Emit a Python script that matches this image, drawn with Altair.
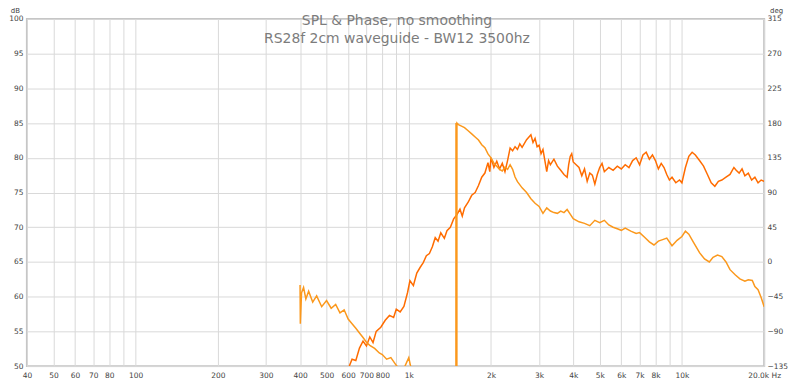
import altair as alt
import pandas as pd

# ---------------- data ----------------
spl_freq = [600, 620, 640, 660, 680, 700, 720, 740, 760, 790, 820, 850, 880, 900, 930, 960, 990,
            1010, 1040, 1070, 1100, 1130, 1160, 1190, 1220, 1250, 1280, 1310, 1350, 1380, 1420,
            1460, 1500, 1540, 1570, 1600, 1650, 1700, 1750, 1800, 1850, 1900, 1950, 1980, 2000,
            2050, 2100, 2150, 2200, 2250, 2300, 2350, 2400, 2450, 2500, 2550, 2600, 2700, 2800,
            2850, 2900, 2950, 3000, 3050, 3100, 3150, 3200, 3250, 3300, 3400, 3500, 3600, 3700,
            3800, 3850, 3900, 3950, 4000, 4100, 4200, 4300, 4400, 4500, 4600, 4700, 4800, 4900,
            5000, 5100, 5200, 5400, 5600, 5800, 6000, 6200, 6400, 6600, 6800, 7000, 7200, 7400,
            7600, 7800, 8000, 8200, 8400, 8600, 8800, 9000, 9200, 9500, 9800, 10000, 10300,
            10600, 10900, 11200, 11600, 12000, 12400, 12800, 13200, 13600, 14000, 14500, 15000,
            15500, 15800, 16200, 16600, 17000, 17500, 18000, 18500, 19000, 19500, 20000]
spl_db = [49.6, 51.0, 50.8, 52.6, 53.6, 52.9, 54.2, 53.4, 55.0, 55.6, 56.6, 57.3, 57.0, 58.2,
          57.8, 58.6, 60.6, 62.3, 61.6, 63.4, 64.2, 64.9, 65.9, 66.2, 67.2, 68.5, 68.0, 69.2,
          68.4, 69.5, 70.0, 71.2, 71.8, 72.6, 71.6, 72.8, 73.6, 74.6, 75.0, 76.0, 77.2, 77.8,
          79.3, 78.0, 80.0, 78.6, 79.5, 78.4, 79.2, 78.0, 79.6, 81.4, 81.0, 81.6, 81.2, 82.0,
          81.5, 82.6, 83.3, 82.2, 82.8, 81.6, 81.8, 80.6, 81.2, 79.6, 78.0, 79.6, 79.0, 79.8,
          78.8, 78.2, 77.6, 77.2, 79.0, 80.2, 80.6, 79.4, 79.0, 78.6, 77.4, 78.4, 76.6, 77.8,
          77.5, 76.2, 77.6, 78.6, 79.2, 78.0, 78.6, 78.2, 78.8, 78.4, 79.0, 78.6, 79.6, 80.0,
          79.0, 80.4, 80.8, 79.8, 80.4, 79.6, 78.4, 79.2, 78.6, 77.6, 76.8, 77.2, 76.4, 76.8,
          76.4, 78.6, 80.2, 80.8, 80.4, 79.6, 78.8, 77.6, 76.4, 75.9, 76.6, 76.8, 77.2, 77.6,
          78.6, 78.2, 77.8, 78.4, 77.4, 77.8, 76.8, 77.2, 76.4, 76.8, 76.6]

phase_freq = [400, 401, 405, 412, 420, 430, 445, 460, 480, 500, 520, 540, 560, 580, 600, 620,
              640, 660, 680, 700, 720, 750, 780, 800, 830, 860, 900, 930, 960, 1000, 1020, 1050,
              1100, 1200, 1300, 1400, 1488, 1489, 1492, 1493, 1496, 1497, 1500, 1501, 1520,
              1560, 1600, 1650, 1700, 1750, 1800, 1850, 1900, 1950, 2000, 2050, 2100, 2150,
              2200, 2250, 2300, 2350, 2400, 2450, 2500, 2600, 2700, 2800, 2900, 3000, 3100,
              3200, 3300, 3400, 3500, 3600, 3700, 3800, 3900, 4000, 4200, 4400, 4600, 4800,
              5000, 5200, 5400, 5600, 5800, 6000, 6200, 6500, 6800, 7000, 7300, 7600, 7900,
              8200, 8500, 8800, 9200, 9600, 10000, 10300, 10600, 11000, 11600, 12100, 12600,
              13000, 13500, 14000, 14500, 15000, 15700, 16300, 17000, 17500, 18100, 18500,
              19000, 19500, 20000]
phase_deg = [-30, -80, -40, -33, -48, -38, -52, -44, -58, -50, -60, -55, -66, -62, -74, -80,
             -86, -92, -98, -104, -108, -112, -118, -120, -126, -124, -134, -140, -138, -124,
             -138, -150, -155, -162, -168, -174, -180, 180, -180, 180, -180, 180, -180, 180, 178,
             176, 174, 170, 166, 162, 158, 152, 148, 140, 135, 128, 124, 120, 118, 123, 120,
             126, 120, 110, 104, 96, 90, 82, 76, 72, 63, 70, 66, 64, 63, 66, 64, 68, 62, 56,
             52, 50, 47, 54, 51, 54, 48, 45, 43, 41, 44, 40, 37, 38, 32, 26, 22, 27, 29, 31,
             21, 28, 33, 40, 36, 26, 12, 4, 0, 6, 9, 7, 0, -10, -17, -22, -25, -23, -24, -32,
             -36, -46, -58]

tick_values = [40, 50, 60, 70, 80, 90, 100, 200, 300, 400, 500, 600, 700, 800, 900, 1000,
               2000, 3000, 4000, 5000, 6000, 7000, 8000, 9000, 10000, 20000]
tick_labels = ["40", "50", "60", "70", "80", "", "100", "200", "300", "400", "500", "600",
               "700", "800", "", "1k", "2k", "3k", "4k", "5k", "6k", "7k", "8k", "", "10k",
               "20.0k Hz"]
db_ticks = [50, 55, 60, 65, 70, 75, 80, 85, 90, 95, 100]
deg_ticks = [-135, -90, -45, 0, 45, 90, 135, 180, 225, 270, 315]
title_lines = ["SPL & Phase, no smoothing", "RS28f 2cm waveguide - BW12 3500hz"]

# ---------------- chart ----------------
spl_df = pd.DataFrame({"freq": spl_freq, "db": spl_db})
phase_df = pd.DataFrame({"freq": phase_freq, "deg": phase_deg})
title_df = pd.DataFrame({"title": ["\n".join(title_lines)]})

label_expr = ""
for v, l in zip(tick_values, tick_labels):
    label_expr += f"datum.value == {v} ? '{l}' : "
label_expr += "''"

FONT = "DejaVu Sans"
xscale = alt.Scale(type="log", domain=[40, 20000], nice=False)
xaxis = alt.Axis(values=tick_values, labelExpr=label_expr, title=None,
                 grid=True, ticks=False, domain=False, labelPadding=5,
                 labelOverlap=False, labelFlush=False)

spl = alt.Chart(spl_df).mark_line(color="#ff6c00", strokeWidth=1.5, clip=True).encode(
    x=alt.X("freq:Q", scale=xscale, axis=xaxis),
    y=alt.Y("db:Q", scale=alt.Scale(domain=[50, 100], nice=False, zero=False),
            axis=alt.Axis(orient="left", values=db_ticks, grid=True, ticks=False,
                          domain=False, labelPadding=4, title="dB", titleAngle=0,
                          titleX=-12, titleY=-6, titleAlign="center",
                          titleBaseline="alphabetic", titleFontWeight="normal",
                          titleFontSize=7, titleColor="#444", titleFont=FONT)),
)

phase = alt.Chart(phase_df).mark_line(color="#fb981c", strokeWidth=1.5, clip=True).encode(
    x=alt.X("freq:Q", scale=xscale, axis=xaxis),
    y=alt.Y("deg:Q", scale=alt.Scale(domain=[-135, 315], nice=False, zero=False),
            axis=alt.Axis(orient="right", values=deg_ticks, grid=False, ticks=False,
                          domain=False, labelPadding=3, title="deg", titleAngle=0,
                          titleX=12, titleY=-6, titleAlign="center",
                          titleBaseline="alphabetic", titleFontWeight="normal",
                          titleFontSize=7, titleColor="#444", titleFont=FONT)),
)

title = alt.Chart(title_df).mark_text(
    font=FONT, fontSize=14, color="#7c7c7c", align="center", baseline="top",
    lineBreak="\n", lineHeight=18
).encode(x=alt.value(372), y=alt.value(-5), text="title:N")

chart = alt.layer(spl, phase, title).resolve_scale(y="independent").properties(
    width=741, height=349,
    padding={"left": 19, "top": 10, "right": 28, "bottom": 14},
    autosize=alt.AutoSizeParams(type="none"),
).configure_view(stroke="#c4c4c4", strokeWidth=2).configure_axis(
    labelFont=FONT, labelFontSize=7.5, labelColor="#444",
    gridColor="#d9d9d9", gridWidth=1,
)

chart.save("out.html", embed_options={"renderer": "svg", "actions": False})
